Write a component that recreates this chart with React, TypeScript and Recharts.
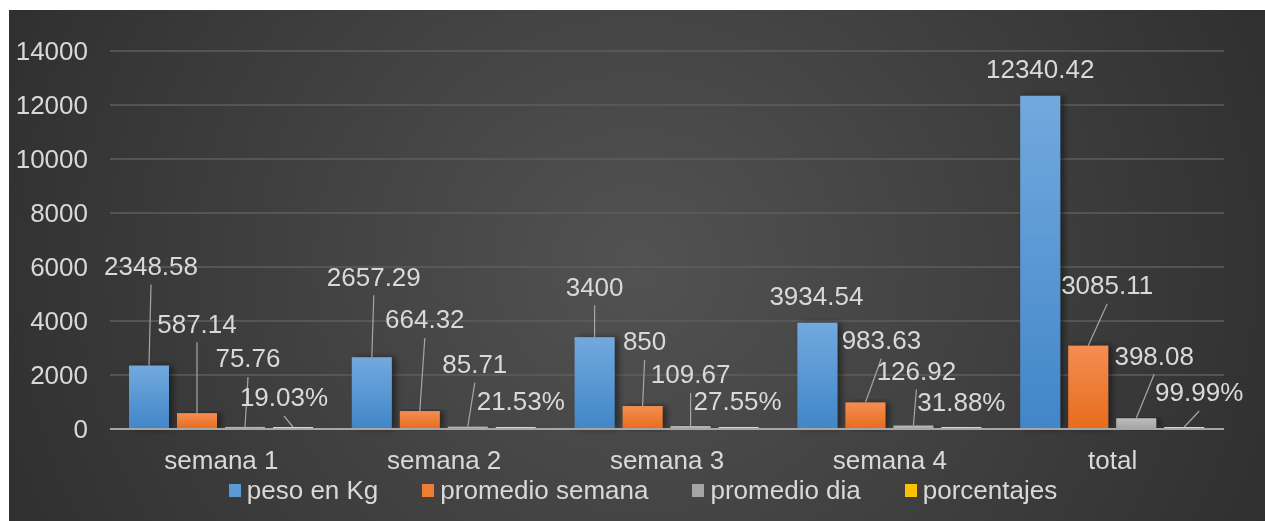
import { Bar, BarChart, CartesianGrid, LabelList, Legend, XAxis, YAxis } from 'recharts'

const categories = ['semana 1', 'semana 2', 'semana 3', 'semana 4', 'total']
const pesoKg = [2348.58, 2657.29, 3400, 3934.54, 12340.42]
const promedioSemana = [587.14, 664.32, 850, 983.63, 3085.11]
const promedioDia = [75.76, 85.71, 109.67, 126.92, 398.08]
const porcentajes = [0.1903, 0.2153, 0.2755, 0.3188, 0.9999]
const yTicks = [0, 2000, 4000, 6000, 8000, 10000, 12000, 14000]
const seriesNames = ['peso en Kg', 'promedio semana', 'promedio dia', 'porcentajes']

// callout placement (dx, dy from top centre of each bar), like the excel callouts
const calloutPeso = [[2, -100], [2, -81], [0, -51], [-1, -27], [0, -27]]
const calloutSemana = [[0, -90], [5, -92], [2, -65], [16, -63], [19, -61]]
const calloutDia = [[3, -69], [7, -63], [0, -52], [3, -55], [18, -63]]
const calloutPct = [[-9, -30], [5, -26], [-1, -26], [0, -25], [15, -35]]

const legendColors = ['#5b9bd5', '#ed7d31', '#a5a5a5', '#ffc000']
const textColor = '#d9d9d9'
const font = '"Liberation Sans", Arial, sans-serif'

const rows = categories.map((name, i) => ({
  name,
  peso: pesoKg[i],
  semana: promedioSemana[i],
  dia: promedioDia[i],
  pct: porcentajes[i],
}))

const fmtNum = (v: number) => String(v)
const fmtPct = (v: number) => (v * 100).toFixed(2) + '%'

function callout(offsets: number[][], fmt: (v: number) => string) {
  return (props: any) => {
    const { x, y, width, value, index } = props
    const [dx, dy] = offsets[index] || [0, -20]
    const cx = x + width / 2
    const tx = cx + dx
    const ty = y + dy
    return (
      <g>
        {-dy > 29 && <line x1={tx} y1={ty + 19} x2={cx} y2={y} stroke="#a6a6a6" strokeWidth={1.2} />}
        <text x={tx} y={ty} dy="0.36em" textAnchor="middle" fill={textColor} fontSize={26}>
          {fmt(value)}
        </text>
      </g>
    )
  }
}

const shadowRect = (p: any) => (
  <rect x={p.x} y={p.y} width={p.width} height={Math.max(p.height, 0)} fill={p.fill} filter="url(#barShadow)" />
)

const CategoryTick = ({ x, y, payload }: any) => (
  <text x={x} y={y + 18.5} textAnchor="middle" fill={textColor} fontSize={26}>
    {payload.value}
  </text>
)

const LegendRow = () => (
  <div style={{ display: 'flex', justifyContent: 'center', alignItems: 'center', height: 30, gap: 44, fontSize: 26, color: textColor, fontFamily: font }}>
    {seriesNames.map((n, i) => (
      <div key={n} style={{ display: 'flex', alignItems: 'center' }}>
        <span style={{ width: 12, height: 13, background: legendColors[i], marginRight: 6, display: 'inline-block' }} />
        <span>{n}</span>
      </div>
    ))}
  </div>
)

export default function App() {
  return (
    <div
      style={{
        position: 'fixed',
        left: 9,
        top: 10,
        right: 0,
        bottom: 0,
        minWidth: 1256,
        minHeight: 511,
        background: 'radial-gradient(ellipse 870px 820px at 628px 255px, #525252 0%, #262626 100%)',
      }}
    >
      <BarChart
        width={1256}
        height={511}
        data={rows}
        margin={{ top: 41, right: 41, left: 0, bottom: 16 }}
        barSize={40}
        barGap={8}
        style={{ fontFamily: font }}
      >
        <defs>
          <linearGradient id="gBlue" x1="0" y1="0" x2="0" y2="1">
            <stop offset="0%" stopColor="#72a9de" />
            <stop offset="100%" stopColor="#4186c9" />
          </linearGradient>
          <linearGradient id="gOrange" x1="0" y1="0" x2="0" y2="1">
            <stop offset="0%" stopColor="#f48d54" />
            <stop offset="100%" stopColor="#e86c1b" />
          </linearGradient>
          <linearGradient id="gGray" x1="0" y1="0" x2="0" y2="1">
            <stop offset="0%" stopColor="#bdbdbd" />
            <stop offset="100%" stopColor="#a3a3a3" />
          </linearGradient>
          <filter id="barShadow" x="-30%" y="-10%" width="160%" height="120%">
            <feDropShadow dx="4" dy="0" stdDeviation="3" floodColor="#000" floodOpacity="0.45" />
          </filter>
        </defs>
        <CartesianGrid vertical={false} stroke="#5e5e5e" strokeWidth={1.5} />
        <XAxis
          dataKey="name"
          axisLine={{ stroke: '#a6a6a6', strokeWidth: 2 }}
          tickLine={false}
          tickSize={0}
          tickMargin={21}
          height={46}
          tick={<CategoryTick />}
        />
        <YAxis
          width={101}
          domain={[0, 14000]}
          ticks={yTicks}
          axisLine={false}
          tickLine={false}
          tickSize={0}
          tickMargin={22}
          tick={{ fill: textColor, fontSize: 26 }}
        />
        <Legend verticalAlign="bottom" wrapperStyle={{ left: 6, width: 1256, bottom: 16 }} content={() => <LegendRow />} />
        <Bar dataKey="peso" name={seriesNames[0]} fill="url(#gBlue)" shape={shadowRect} isAnimationActive={false}>
          <LabelList dataKey="peso" content={callout(calloutPeso, fmtNum)} />
        </Bar>
        <Bar dataKey="semana" name={seriesNames[1]} fill="url(#gOrange)" shape={shadowRect} isAnimationActive={false}>
          <LabelList dataKey="semana" content={callout(calloutSemana, fmtNum)} />
        </Bar>
        <Bar dataKey="dia" name={seriesNames[2]} fill="url(#gGray)" shape={shadowRect} isAnimationActive={false}>
          <LabelList dataKey="dia" content={callout(calloutDia, fmtNum)} />
        </Bar>
        <Bar dataKey="pct" name={seriesNames[3]} fill="#ffd966" minPointSize={2} isAnimationActive={false}>
          <LabelList dataKey="pct" content={callout(calloutPct, fmtPct)} />
        </Bar>
      </BarChart>
    </div>
  )
}
